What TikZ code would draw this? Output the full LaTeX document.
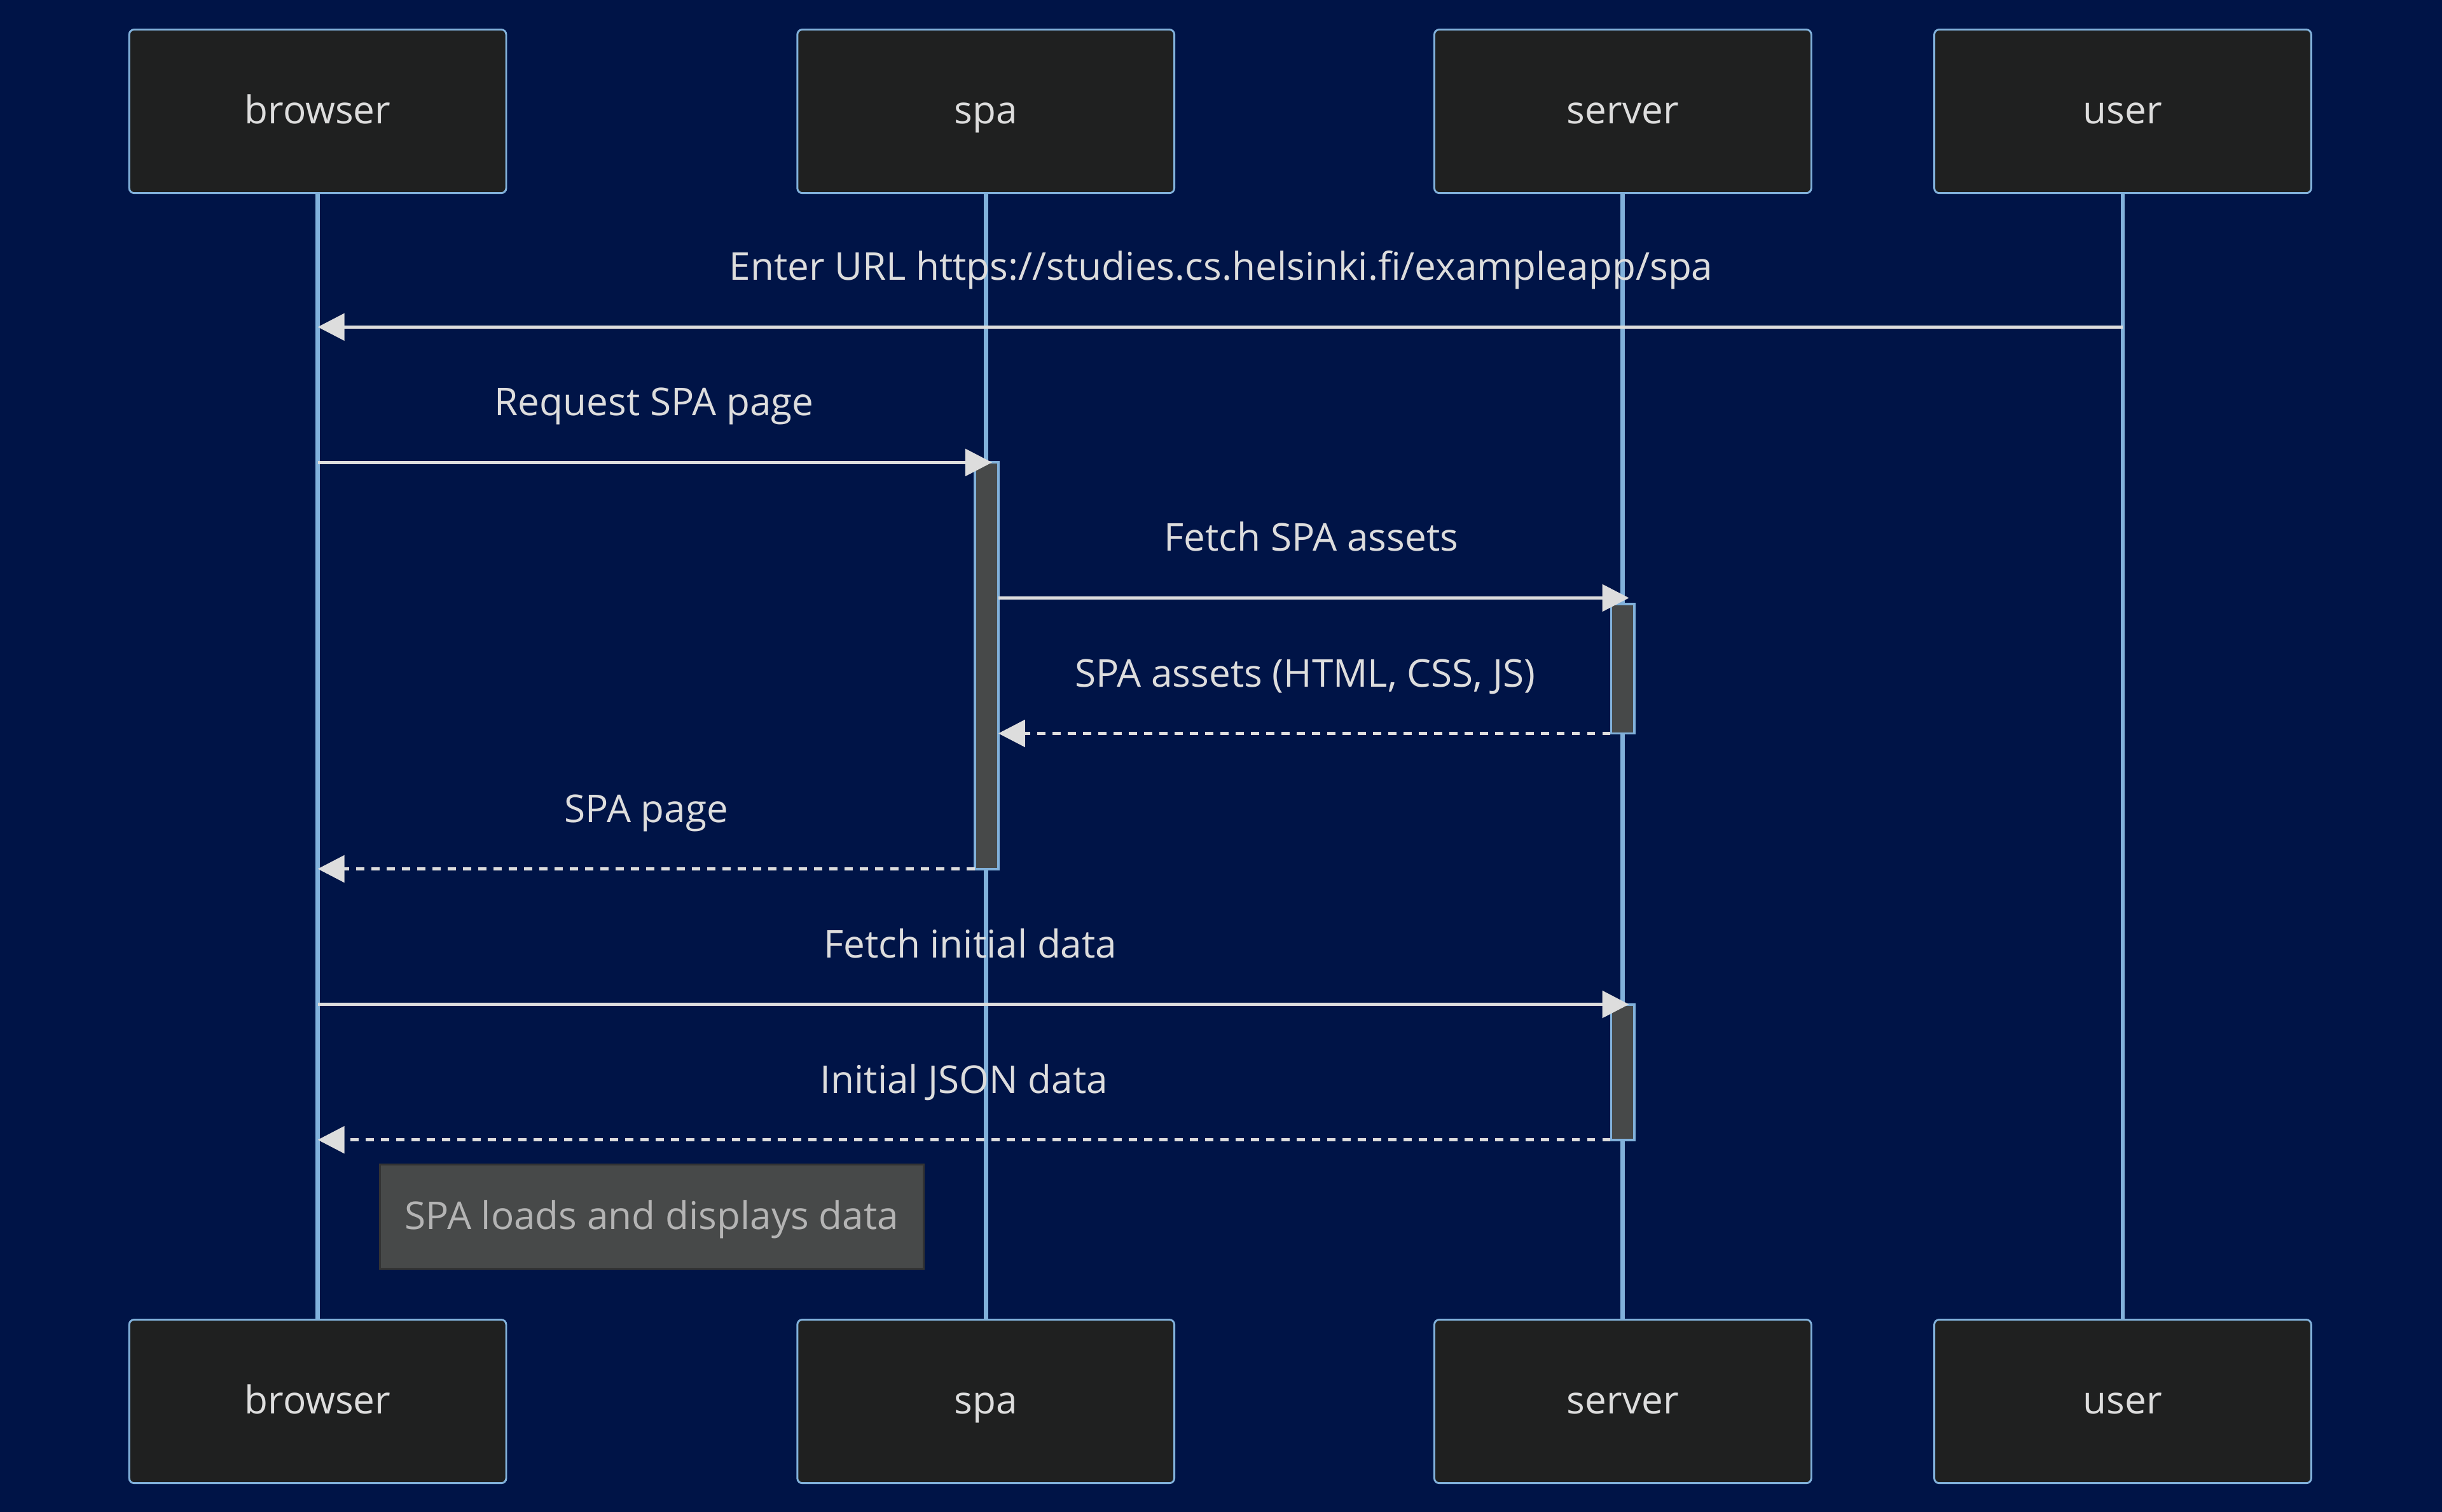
\documentclass[tikz,border=0pt]{standalone}
\usepackage{fontspec}
\setmainfont{Open Sans}
\usetikzlibrary{arrows.meta}
\definecolor{bgblue}{RGB}{0,20,71}
\definecolor{boxfill}{RGB}{31,32,32}
\definecolor{lineblue}{RGB}{129,177,219}
\definecolor{txtgrey}{RGB}{221,221,221}
\definecolor{actfill}{RGB}{71,73,73}
\definecolor{notetxt}{RGB}{180,180,180}
\tikzset{
  seqfont/.style={font=\fontsize{17.5}{21}\selectfont, text height=1.36em, text depth=0.22em},
  actor/.style={draw=lineblue, line width=0.03cm, fill=boxfill, rounded corners=0.08cm,
    minimum width=6.05cm, minimum height=2.625cm, text=txtgrey, seqfont},
  life/.style={draw=lineblue, line width=0.07cm},
  act/.style={draw=lineblue, line width=0.04cm, fill=actfill, minimum width=0.375cm, inner sep=0pt},
  msg/.style={draw=txtgrey, line width=0.055cm, -{Triangle[length=0.43cm, width=0.43cm]}},
  reply/.style={msg, dash pattern=on 0.13cm off 0.115cm},
  lbl/.style={text=txtgrey, seqfont, inner sep=0pt},
  notebox/.style={draw=black!80, line width=0.03cm, fill=actfill, minimum width=8.725cm,
    minimum height=1.675cm, text=notetxt, seqfont}
}

\begin{document}
\begin{tikzpicture}[x=0.025cm, y=-0.025cm]
  %%%%% START %%%%%
  \fill[bgblue] (0,0) rectangle (1568,971);
  \useasboundingbox (0,0) rectangle (1568,971);

  % participants
  \node[actor] (brwT) at (204,71.5) {browser};
  \node[actor] (spaT) at (633,71.5) {spa};
  \node[actor] (srvT) at (1042,71.5) {server};
  \node[actor] (usrT) at (1363,71.5) {user};
  \node[actor] (brwB) at (204,900) {browser};
  \node[actor] (spaB) at (633,900) {spa};
  \node[actor] (srvB) at (1042,900) {server};
  \node[actor] (usrB) at (1363,900) {user};

  \draw[life] (brwT) -- (brwB);
  \draw[life] (spaT) -- (spaB);
  \draw[life] (srvT) -- (srvB);
  \draw[life] (usrT) -- (usrB);

  % activations
  \node[act, minimum height=6.525cm] (spaAct) at (633.5,427.5) {};
  \node[act, minimum height=2.075cm] (srvAct1) at (1042,429.5) {};
  \node[act, minimum height=2.175cm] (srvAct2) at (1042,688.5) {};

  % end points on the lifelines
  \coordinate (u1) at (1363,210);  \coordinate (b1) at (204,210);
  \coordinate (b2) at (204,297);   \coordinate (s2) at (637,297);
  \coordinate (s3) at (641,384);   \coordinate (v3) at (1046,384);
  \coordinate (v4) at (1034,471);  \coordinate (s4) at (641,471);
  \coordinate (s5) at (626,558);   \coordinate (b5) at (204,558);
  \coordinate (b6) at (204,645);   \coordinate (v6) at (1046,645);
  \coordinate (v7) at (1034,732);  \coordinate (b7) at (204,732);

  % messages
  \draw[msg] (u1) -- (b1);
  \node[lbl] (l1) at (784,172) {Enter URL https://studies.cs.helsinki.fi/exampleapp/spa};
  \draw[msg] (b2) -- (s2);
  \node[lbl] (l2) at (420,259) {Request SPA page};
  \draw[msg] (s3) -- (v3);
  \node[lbl] (l3) at (842,346) {Fetch SPA assets};
  \draw[reply] (v4) -- (s4);
  \node[lbl] (l4) at (838,433) {SPA assets (HTML, CSS, JS)};
  \draw[reply] (s5) -- (b5);
  \node[lbl] (l5) at (415,520) {SPA page};
  \draw[msg] (b6) -- (v6);
  \node[lbl] (l6) at (623,607) {Fetch initial data};
  \draw[reply] (v7) -- (b7);
  \node[lbl] (l7) at (619,694) {Initial JSON data};

  % note
  \node[notebox] (note) at (418.5,781.5) {SPA loads and displays data};
  %%%%% END %%%%%
\end{tikzpicture}
\end{document}
